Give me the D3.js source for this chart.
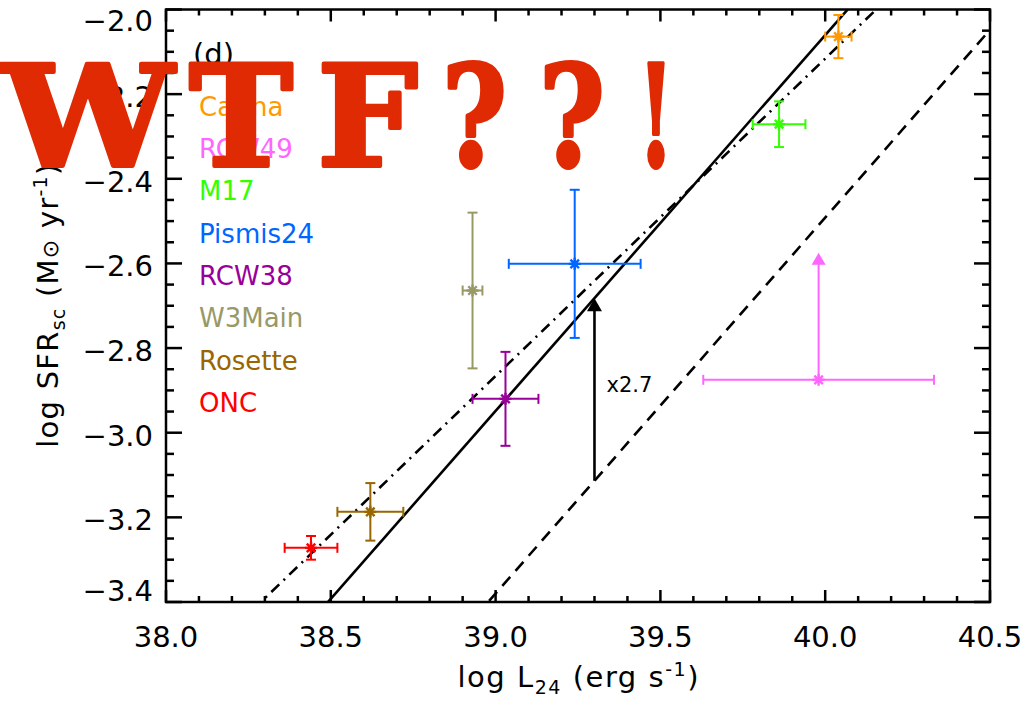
<!DOCTYPE html>
<html>
<head>
<meta charset="utf-8">
<script src="https://cdn.jsdelivr.net/npm/d3@7"></script>
<style>
  html, body { margin: 0; padding: 0; background: #fff; }
  svg { display: block; }
  text { font-family: "DejaVu Sans", sans-serif; }
  text.stamp { font-family: "DejaVu Serif", "Liberation Serif", serif; font-weight: bold; }
</style>
</head>
<body>
<svg id="chart" width="1029" height="703"></svg>
<script>
// Star-forming clusters: 24 micron luminosity vs. star formation rate
const clusters   = ["Carina", "RCW49", "M17", "Pismis24", "RCW38", "W3Main", "Rosette", "ONC"];
const colors     = ["#ff9900", "#ff66ff", "#33ff00", "#0066ff", "#990099", "#999966", "#996600", "#ff0000"];
const logL24     = [40.04, 39.98, 39.86, 39.24, 39.03, 38.93, 38.62, 38.44];
const logL24Err  = [0.04, 0.35, 0.08, 0.20, 0.10, 0.03, 0.10, 0.08];
const logSFR     = [-2.064, -2.875, -2.271, -2.601, -2.920, -2.664, -3.187, -3.272];
const logSFRErr  = [0.051, 0, 0.054, 0.175, 0.111, 0.184, 0.068, 0.028];
const lowerLimit = [false, true, false, false, false, false, false, false];
const limitArrow = 0.30;          // length of the lower-limit arrow, dex

// Relations: log SFR = slope * log L24 + intercept
const relSlopes     = [0.888, 0.75, 0.888];
const relIntercepts = [-37.5805, -32.116, -38.0119];
const relDash       = [null, "11,6,2,6", "12,8"];

const shiftFactor = 2.7;          // vertical offset between the two parallel relations
const shiftAt     = 39.3;

const xTicks = [38.0, 38.5, 39.0, 39.5, 40.0, 40.5];
const yTicks = [-2.0, -2.2, -2.4, -2.6, -2.8, -3.0, -3.2, -3.4];
const panelTag = "(d)";
const stamp = "WTF??!";

const svg = d3.select("#chart");
const L = 166, R = 990, T = 9.5, B = 602;
const x = d3.scaleLinear().domain([38.0, 40.5]).range([L, R]);
const y = d3.scaleLinear().domain([-2.0, -3.4]).range([T, B]);

svg.append("defs").append("clipPath").attr("id", "plotClip")
  .append("rect").attr("x", L).attr("y", T).attr("width", R - L).attr("height", B - T);

// relation lines
const plot = svg.append("g").attr("clip-path", "url(#plotClip)");
relSlopes.forEach((s, i) => {
  const b = relIntercepts[i];
  plot.append("line")
    .attr("x1", x(37.5)).attr("y1", y(s * 37.5 + b))
    .attr("x2", x(41)).attr("y2", y(s * 41 + b))
    .attr("stroke", "#000").attr("stroke-width", 2.6)
    .attr("stroke-dasharray", relDash[i]);
});

// shift arrow between dashed and solid relation
{
  const y0 = y(relSlopes[2] * shiftAt + relIntercepts[2]);
  const y1 = y(relSlopes[0] * shiftAt + relIntercepts[0]);
  const xa = x(shiftAt);
  svg.append("line").attr("x1", xa).attr("x2", xa).attr("y1", y0).attr("y2", y1 + 11)
    .attr("stroke", "#000").attr("stroke-width", 2.6);
  svg.append("path").attr("d", `M${xa},${y1} L${xa - 7.5},${y1 + 13} L${xa + 7.5},${y1 + 13} Z`)
    .attr("fill", "#000");
  svg.append("text").attr("x", xa + 12).attr("y", (y0 + y1) / 2 + 3)
    .attr("font-size", 21).attr("fill", "#000").text("x" + shiftFactor);
}

// error bars and markers
const cap = 5;
clusters.forEach((name, i) => {
  const g = svg.append("g").attr("stroke", colors[i]).attr("stroke-width", 2).attr("fill", "none");
  const cx = x(logL24[i]), cy = y(logSFR[i]);
  const xl = x(logL24[i] - logL24Err[i]), xr = x(logL24[i] + logL24Err[i]);
  g.append("line").attr("x1", xl).attr("x2", xr).attr("y1", cy).attr("y2", cy);
  g.append("line").attr("x1", xl).attr("x2", xl).attr("y1", cy - cap).attr("y2", cy + cap);
  g.append("line").attr("x1", xr).attr("x2", xr).attr("y1", cy - cap).attr("y2", cy + cap);
  if (lowerLimit[i]) {
    const yt = y(logSFR[i] + limitArrow);
    g.append("line").attr("x1", cx).attr("x2", cx).attr("y1", cy).attr("y2", yt + 10);
    g.append("path").attr("d", `M${cx},${yt} L${cx - 7},${yt + 12} L${cx + 7},${yt + 12} Z`)
      .attr("fill", colors[i]).attr("stroke", "none");
  } else {
    const yu = y(logSFR[i] + logSFRErr[i]), yd = y(logSFR[i] - logSFRErr[i]);
    g.append("line").attr("x1", cx).attr("x2", cx).attr("y1", yu).attr("y2", yd);
    g.append("line").attr("x1", cx - cap).attr("x2", cx + cap).attr("y1", yu).attr("y2", yu);
    g.append("line").attr("x1", cx - cap).attr("x2", cx + cap).attr("y1", yd).attr("y2", yd);
  }
  const r = 6, d = r * Math.SQRT1_2;
  g.append("path")
    .attr("d", `M${cx - r},${cy}H${cx + r}M${cx},${cy - r}V${cy + r}` +
               `M${cx - d},${cy - d}L${cx + d},${cy + d}M${cx - d},${cy + d}L${cx + d},${cy - d}`)
    .attr("stroke-width", 2.4);
});

// axes: ticks drawn inward on all four sides
const axes = svg.append("g").attr("stroke", "#000").attr("stroke-width", 2.5).attr("fill", "none");
axes.append("rect").attr("x", L).attr("y", T).attr("width", R - L).attr("height", B - T);
const xMinor = d3.range(38.0, 40.5001, 0.1);
const yMinor = d3.range(-2.0, -3.4001, -0.05);
xMinor.forEach(v => {
  const major = xTicks.some(t => Math.abs(t - v) < 1e-6);
  const len = major ? 12 : 6, px = x(v);
  axes.append("line").attr("x1", px).attr("x2", px).attr("y1", B).attr("y2", B - len);
  axes.append("line").attr("x1", px).attr("x2", px).attr("y1", T).attr("y2", T + len);
});
yMinor.forEach(v => {
  const major = yTicks.some(t => Math.abs(t - v) < 1e-6);
  const len = major ? 16 : 8, py = y(v);
  axes.append("line").attr("x1", L).attr("x2", L + len).attr("y1", py).attr("y2", py);
  axes.append("line").attr("x1", R).attr("x2", R - len).attr("y1", py).attr("y2", py);
});

// tick labels
svg.append("g").selectAll("text").data(xTicks).join("text")
  .attr("x", d => x(d)).attr("y", 647).attr("text-anchor", "middle")
  .attr("font-size", 29).text(d => d.toFixed(1));
svg.append("g").selectAll("text").data(yTicks).join("text")
  .attr("x", 153)
  .attr("y", d => Math.min(Math.max(y(d) + 3, T + 11), B - 11) + 10)
  .attr("text-anchor", "end").attr("font-size", 29)
  .text(d => d.toFixed(1).replace("-", "\u2212"));

// axis titles
const xt = svg.append("text").attr("x", (L + R) / 2).attr("y", 687)
  .attr("text-anchor", "middle").attr("font-size", 29)
  .attr("textLength", 241).attr("lengthAdjust", "spacing");
xt.append("tspan").text("log L");
xt.append("tspan").attr("font-size", 19).attr("dy", 7).text("24");
xt.append("tspan").attr("dy", -7).text(" (erg s");
xt.append("tspan").attr("font-size", 19).attr("dy", -11).text("-1");
xt.append("tspan").attr("dy", 11).text(")");

const yt = svg.append("text").attr("transform", `translate(58,${(T + B) / 2}) rotate(-90)`)
  .attr("text-anchor", "middle").attr("font-size", 29)
  .attr("textLength", 284).attr("lengthAdjust", "spacing");
yt.append("tspan").text("log SFR");
yt.append("tspan").attr("font-size", 19).attr("dy", 7).text("sc");
yt.append("tspan").attr("dy", -7).text(" (M");
yt.append("tspan").attr("font-size", 22).text("\u2299");
yt.append("tspan").text(" yr");
yt.append("tspan").attr("font-size", 19).attr("dy", -11).text("-1");
yt.append("tspan").attr("dy", 11).text(")");

// panel tag and cluster names
svg.append("text").attr("x", 193).attr("y", 64).attr("font-size", 29).text(panelTag);
svg.append("g").selectAll("text").data(clusters).join("text")
  .attr("x", 199).attr("y", (d, i) => 115.7 + i * 42.3)
  .attr("font-size", 26).attr("fill", (d, i) => colors[i]).text(d => d);

// red stamp over the panel, each glyph fitted into its own box
const stampBoxes = [[2, 174], [189, 293], [317, 418], [442, 507], [539, 605], [638, 674]];
svg.append("g").selectAll("text").data(stamp.split("")).join("text")
  .attr("class", "stamp")
  .attr("x", (d, i) => stampBoxes[i][0]).attr("y", 166)
  .attr("textLength", (d, i) => stampBoxes[i][1] - stampBoxes[i][0])
  .attr("lengthAdjust", "spacingAndGlyphs")
  .attr("font-size", 141).attr("fill", "#e02a04")
  .attr("stroke", "#e02a04").attr("stroke-width", 4).attr("stroke-linejoin", "round")
  .text(d => d);
</script>
</body>
</html>
